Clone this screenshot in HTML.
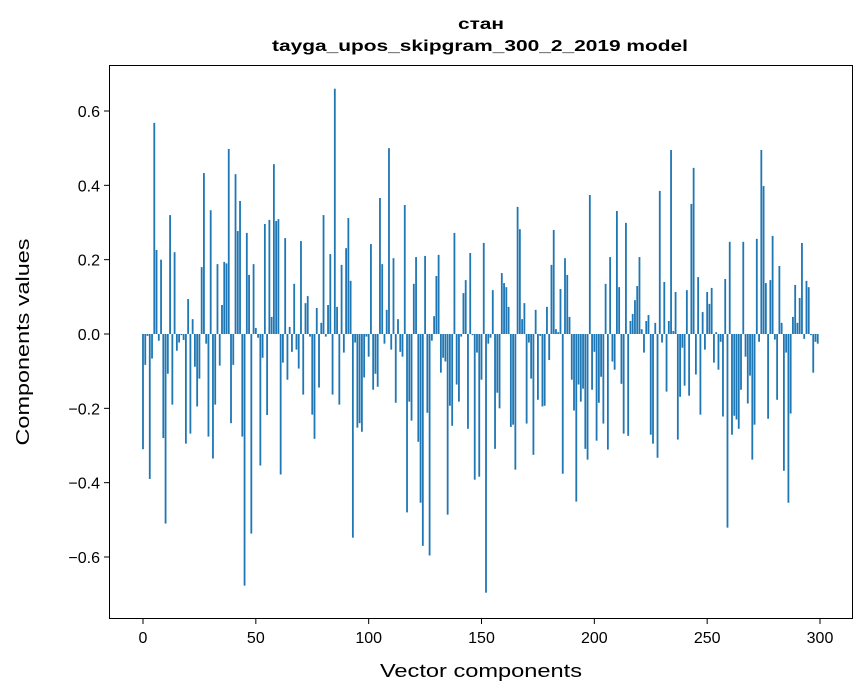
<!DOCTYPE html>
<html><head><meta charset="utf-8"><style>
html,body{margin:0;padding:0;background:#fff;}
svg{display:block;font-family:"Liberation Sans","DejaVu Sans",sans-serif;}
</style></head><body>
<svg id="chart" width="867" height="696" xmlns="http://www.w3.org/2000/svg">
<rect width="867" height="696" fill="#fff"/>
<text x="481" y="29" text-anchor="middle" font-size="16" font-weight="bold" textLength="46" lengthAdjust="spacingAndGlyphs">стан</text>
<text x="480" y="51" text-anchor="middle" font-size="16" font-weight="bold" textLength="416" lengthAdjust="spacingAndGlyphs">tayga_upos_skipgram_300_2_2019 model</text>
<g id="bars"></g>
<g id="xticks"></g>
<g id="yticks"></g>
<rect x="109.5" y="65.5" width="743" height="553" fill="none" stroke="#000" stroke-width="1"/>
<text x="481" y="677" text-anchor="middle" font-size="18" textLength="202" lengthAdjust="spacingAndGlyphs">Vector components</text>
<text transform="translate(29,342) rotate(-90)" text-anchor="middle" font-size="18" textLength="207" lengthAdjust="spacingAndGlyphs">Components values</text>
</svg>
<script>
const values = [
-0.31,-0.083,-0.005,-0.39,-0.066,0.568,0.226,-0.018,0.2,-0.28,
-0.51,-0.107,0.32,-0.19,0.22,-0.045,-0.023,-0.003,-0.016,-0.295,
0.094,-0.268,0.04,-0.088,-0.195,-0.12,0.18,0.433,-0.026,-0.276,
0.333,-0.335,-0.19,0.188,-0.085,0.078,0.194,0.19,0.498,-0.24,
-0.083,0.43,0.277,0.358,-0.276,-0.677,0.272,0.159,-0.537,0.188,
0.016,-0.01,-0.354,-0.064,0.296,-0.218,0.307,0.046,0.457,0.304,
0.309,-0.378,-0.077,0.258,-0.123,0.019,-0.048,0.135,-0.042,-0.093,
0.25,-0.163,0.083,0.102,-0.007,-0.217,-0.282,0.07,-0.144,0.03,
0.32,-0.007,0.078,0.215,-0.163,0.66,0.073,-0.19,0.186,-0.05,
0.231,0.312,0.143,-0.548,-0.023,-0.252,-0.24,-0.263,-0.117,-0.007,
-0.061,0.242,-0.15,-0.107,-0.142,0.366,0.188,-0.026,0.065,0.5,
-0.042,0.204,-0.185,0.04,-0.048,-0.061,0.347,-0.48,-0.182,-0.233,
0.135,0.207,-0.29,-0.454,-0.57,0.21,-0.212,-0.596,-0.018,0.048,
0.156,0.213,-0.104,-0.064,-0.074,-0.486,-0.193,-0.247,0.272,-0.136,
-0.182,-0.007,0.11,0.145,-0.255,0.218,-0.003,-0.392,-0.05,-0.384,
-0.123,0.245,-0.696,-0.026,-0.01,0.118,-0.309,-0.158,-0.2,0.164,
0.137,0.126,0.073,-0.25,-0.244,-0.365,0.342,0.282,0.04,0.083,
-0.241,-0.023,-0.12,-0.325,0.065,-0.177,-0.005,-0.195,-0.193,0.073,
-0.07,0.186,0.28,0.013,0.005,0.121,-0.376,0.204,0.159,0.046,
-0.123,-0.206,-0.451,-0.136,-0.182,-0.147,-0.309,-0.338,0.374,-0.15,
-0.048,-0.287,-0.185,-0.115,-0.241,0.135,-0.311,0.207,-0.074,-0.096,
0.331,0.126,-0.134,-0.268,0.299,-0.274,0.035,0.054,0.091,0.129,
0.207,0.013,-0.05,0.035,0.051,-0.271,-0.295,0.03,-0.333,0.385,
-0.023,0.14,-0.155,0.035,0.495,0.008,0.113,-0.284,-0.169,-0.037,
-0.139,0.118,-0.166,0.35,0.447,-0.109,0.153,-0.217,0.059,-0.042,
0.113,0.081,0.124,-0.077,0.005,-0.096,-0.021,-0.222,0.148,-0.521,
0.248,-0.271,-0.22,-0.23,-0.255,-0.15,0.248,-0.061,-0.187,-0.112,
-0.338,-0.244,0.256,-0.021,0.495,0.398,0.137,-0.228,0.145,0.264,
-0.015,-0.177,0.183,0.03,-0.368,-0.05,-0.454,-0.214,0.046,0.132,
0.03,0.097,0.245,-0.013,0.143,0.126,-0.003,-0.104,-0.021,-0.026
];
const xTickValues = [0,50,100,150,200,250,300];
const yTickValues = [-0.6,-0.4,-0.2,0.0,0.2,0.4,0.6];
const yTickLabels = ["\u22120.6","\u22120.4","\u22120.2","0.0","0.2","0.4","0.6"];

const NS = "http://www.w3.org/2000/svg";
const xScale = v => 143 + v * (677 / 300);
const yScale = v => 334 - v * 371.67;
const barW = 0.8 * 677 / 300;

const barsG = document.getElementById('bars');
values.forEach((v, i) => {
  const r = document.createElementNS(NS, 'rect');
  const y0 = yScale(0), y1 = yScale(v);
  r.setAttribute('x', xScale(i) - barW / 2);
  r.setAttribute('y', Math.min(y0, y1));
  r.setAttribute('width', barW);
  r.setAttribute('height', Math.max(Math.abs(y1 - y0), 0.3));
  r.setAttribute('fill', '#1f77b4');
  
  
  barsG.appendChild(r);
});

const xg = document.getElementById('xticks');
xTickValues.forEach(t => {
  const x = xScale(t);
  const l = document.createElementNS(NS, 'line');
  l.setAttribute('x1', x); l.setAttribute('x2', x);
  l.setAttribute('y1', 619); l.setAttribute('y2', 624);
  l.setAttribute('stroke', '#000');
  
  
  xg.appendChild(l);
  const tx = document.createElementNS(NS, 'text');
  tx.setAttribute('x', x); tx.setAttribute('y', 643);
  tx.setAttribute('text-anchor', 'middle');
  tx.setAttribute('font-size', '16');
  tx.textContent = t;
  
  
  xg.appendChild(tx);
});

const yg = document.getElementById('yticks');
yTickValues.forEach((t, i) => {
  const y = yScale(t);
  const l = document.createElementNS(NS, 'line');
  l.setAttribute('x1', 104); l.setAttribute('x2', 109);
  l.setAttribute('y1', y); l.setAttribute('y2', y);
  l.setAttribute('stroke', '#000');
  
  
  yg.appendChild(l);
  const tx = document.createElementNS(NS, 'text');
  tx.setAttribute('x', 100); tx.setAttribute('y', y + 6);
  tx.setAttribute('text-anchor', 'end');
  tx.setAttribute('font-size', '16');
  tx.textContent = yTickLabels[i];
  
  
  yg.appendChild(tx);
});
</script>
</body></html>
